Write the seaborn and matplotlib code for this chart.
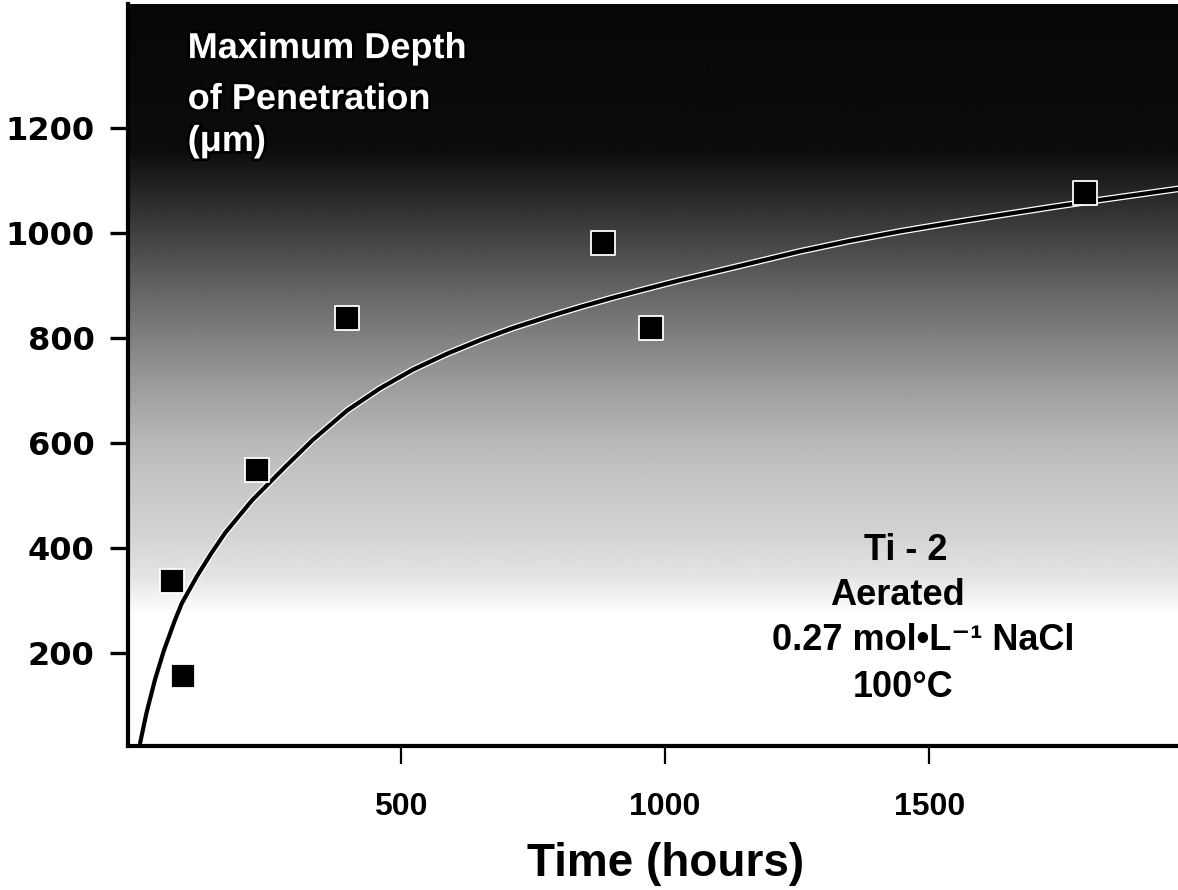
import numpy as np
import pandas as pd
import seaborn as sns
import matplotlib.pyplot as plt
import matplotlib.patheffects as pe

# Measured maximum penetration depth of Ti-2 crevices
time_h = [66, 87, 227, 398, 883, 973, 1795]
depth_um = [337, 156, 549, 838, 981, 819, 1076]

# Trend curve through the measurements
curve_time_h = [6, 18, 34, 51, 72, 85, 114, 140, 167, 218, 280, 333, 398,
                460, 523, 587, 650, 712, 777, 839, 902, 966, 1028, 1140,
                1256, 1350, 1445, 1540, 1634, 1730, 1824, 1972]
curve_depth_um = [29, 86, 149, 205, 263, 295, 347, 389, 429, 491, 554, 606,
                  662, 704, 740, 770, 796, 819, 840, 859, 877, 894, 910, 937,
                  965, 985, 1003, 1019, 1034, 1049, 1063, 1084]

x_ticks = [500, 1000, 1500]
y_ticks = [200, 400, 600, 800, 1000, 1200]

conditions = ["Ti - 2", "Aerated", "0.27 mol\u2022L\u207b\u00b9 NaCl", "100\u00b0C"]
y_title = ["Maximum Depth", "of Penetration", "(\u03bcm)"]
x_title = "Time (hours)"

# Background shading: dark at the top, fading to white near the bottom
shade_depth = [0, 270, 300, 340, 420, 520, 606, 720, 872, 1025, 1158, 1500]
shade_gray = [1.0, 1.0, 0.96, 0.90, 0.83, 0.78, 0.72, 0.60, 0.42, 0.22, 0.05, 0.02]

sns.set_theme(style="white")
plt.rcParams["font.family"] = ["Liberation Sans", "DejaVu Sans"]
plt.rcParams["font.weight"] = "bold"
plt.rcParams["text.color"] = "black"
plt.rcParams["axes.labelcolor"] = "black"
plt.rcParams["xtick.color"] = "black"
plt.rcParams["ytick.color"] = "black"

W, H = 1178, 890
fig = plt.figure(figsize=(W / 100, H / 100), dpi=100)
ax = fig.add_axes([128 / W, (H - 746) / H, (W - 128) / W, (746 - 4) / H])

xmin, xmax = -17, 1971
ymin, ymax = 23, 1436
ax.set_xlim(xmin, xmax)
ax.set_ylim(ymin, ymax)

grid = np.linspace(ymin, ymax, 800)
shade = np.interp(grid, shade_depth, shade_gray)
ax.imshow(shade[:, None], extent=[xmin, xmax, ymin, ymax], origin="lower",
          aspect="auto", cmap="gray", vmin=0, vmax=1, zorder=0,
          interpolation="bilinear")

curve = pd.DataFrame({"time": curve_time_h, "depth": curve_depth_um})
sns.lineplot(data=curve, x="time", y="depth", ax=ax, color="black",
             linewidth=3.0, sort=False, estimator=None, zorder=3,
             path_effects=[pe.Stroke(linewidth=4.8, foreground="white"),
                           pe.Normal()])

pts = pd.DataFrame({"time": time_h, "depth": depth_um})
sns.scatterplot(data=pts, x="time", y="depth", ax=ax, marker="s", s=300,
                color="black", edgecolor="white", linewidth=1.3, zorder=4)

# Axes frame and ticks
for side in ("top", "right"):
    ax.spines[side].set_visible(False)
for side in ("left", "bottom"):
    ax.spines[side].set_color("black")
    ax.spines[side].set_linewidth(3.0)
    ax.spines[side].set_zorder(5)

ax.set_xticks(x_ticks)
ax.set_yticks(y_ticks)
ax.tick_params(axis="y", direction="out", length=13, width=2.4, pad=11,
               colors="black", left=True)
ax.tick_params(axis="x", direction="out", length=13, width=1.6, pad=20,
               colors="black", bottom=True)
for lab in ax.get_yticklabels():
    lab.set_fontfamily("DejaVu Sans")
    lab.set_fontweight("bold")
    lab.set_fontsize(23)
for lab in ax.get_xticklabels():
    lab.set_fontfamily(["Liberation Sans", "DejaVu Sans"])
    lab.set_fontweight("bold")
    lab.set_fontsize(23)

ax.set_ylabel("")
ax.set_xlabel(x_title, fontsize=33, fontweight="bold", color="black",
              family=["Liberation Sans", "DejaVu Sans"])
ax.xaxis.set_label_coords((666 - 128) / (W - 128), (746 - 842) / (746 - 4))

# Axis title inside the plot, white with a dark outline
outline = [pe.withStroke(linewidth=4, foreground="black")]
for txt, base in zip(y_title, [1333, 1236, 1156]):
    ax.text(96, base, txt, color="white", fontsize=26, fontweight="bold",
            ha="left", va="baseline", zorder=6, path_effects=outline,
            family=["Liberation Sans", "DejaVu Sans"])

# Test conditions
cond_pos = [(1455, 377), (1439, 291), (1489, 206), (1451, 116)]
for txt, (tx, ty) in zip(conditions, cond_pos):
    ax.text(tx, ty, txt, color="black", fontsize=26, fontweight="bold",
            ha="center", va="baseline", zorder=6,
            family=["Liberation Sans", "DejaVu Sans"])

fig.savefig("out.png", dpi=100, facecolor="white")
